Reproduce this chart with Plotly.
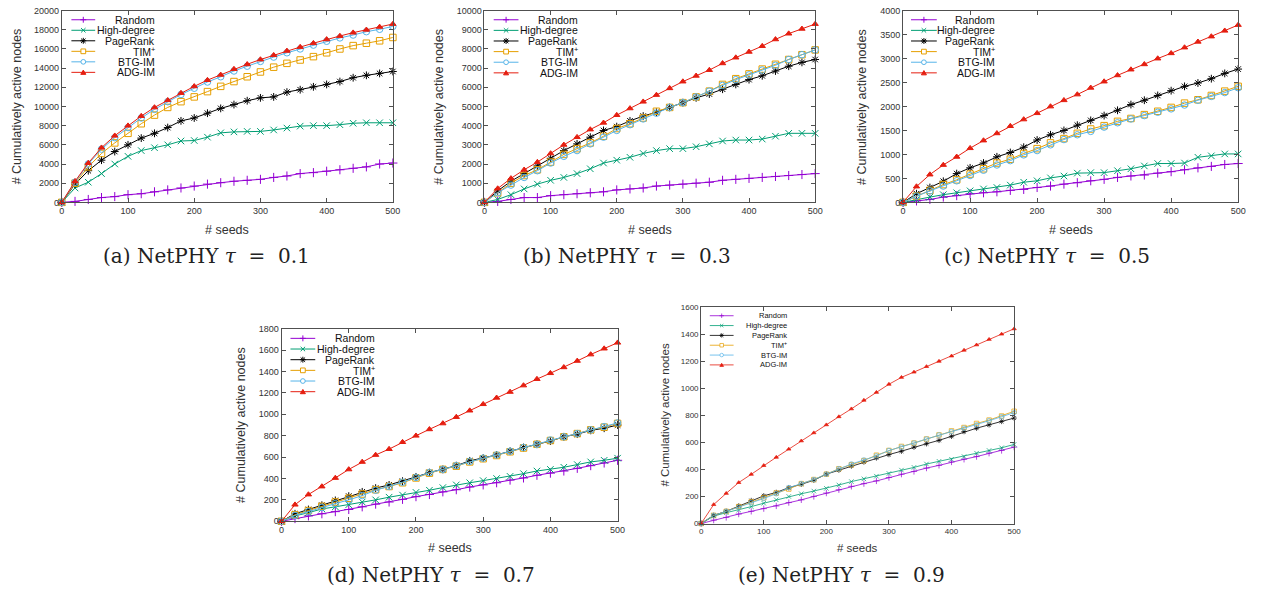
import plotly.graph_objects as go

W, H = 1263, 600

# ---------------- data ----------------
seeds = list(range(0, 501, 20))
series_names = ["Random", "High-degree", "PageRank", "TIM<sup>+</sup>", "BTG-IM", "ADG-IM"]
colors = ["#9400D3", "#009E73", "#000000", "#E69F00", "#56B4E9", "#E51E10"]
symbols = ["cross-thin-open", "x-thin-open", "asterisk-open", "square-open", "circle-open", "triangle-up"]

# (a) tau = 0.1
a_random = [0, 100, 300, 500, 600, 800, 900, 1100, 1300, 1500, 1700, 1900, 2050, 2200, 2300, 2400, 2600, 2750, 3000, 3100, 3250, 3400, 3550, 3700, 4000, 4100]
a_high = [0, 1500, 2100, 3000, 4000, 4800, 5400, 5700, 6000, 6400, 6450, 6800, 7250, 7350, 7400, 7400, 7550, 7750, 7950, 8000, 8000, 8100, 8250, 8300, 8300, 8300]
a_pagerank = [0, 1900, 3300, 4400, 5300, 6000, 6700, 7200, 7800, 8500, 8800, 9300, 9800, 10200, 10600, 10900, 11000, 11500, 11750, 12050, 12300, 12600, 13000, 13250, 13450, 13650]
a_tim = [0, 2000, 3700, 5100, 6200, 7200, 8200, 9100, 9900, 10500, 11000, 11550, 12100, 12600, 13100, 13600, 14100, 14500, 14850, 15200, 15600, 16000, 16350, 16600, 16850, 17200]
a_btg = [0, 2100, 4000, 5550, 6750, 7800, 8800, 9700, 10500, 11250, 11900, 12550, 13100, 13700, 14200, 14700, 15150, 15600, 16000, 16400, 16800, 17150, 17450, 17800, 18050, 18350]
a_adg = [0, 2200, 4100, 5700, 6950, 8000, 9000, 9900, 10650, 11400, 12100, 12750, 13300, 13900, 14400, 14900, 15350, 15800, 16200, 16600, 17000, 17350, 17700, 18000, 18300, 18600]

# (b) tau = 0.3
b_random = [0, 50, 150, 250, 250, 350, 400, 450, 500, 550, 650, 700, 750, 850, 900, 950, 1000, 1050, 1150, 1200, 1250, 1300, 1350, 1400, 1450, 1500]
b_high = [0, 150, 400, 700, 950, 1150, 1300, 1500, 1750, 2050, 2200, 2350, 2550, 2700, 2800, 2800, 2900, 3050, 3200, 3250, 3250, 3300, 3450, 3600, 3600, 3600]
b_pagerank = [0, 600, 1100, 1500, 1900, 2300, 2700, 3050, 3400, 3750, 3950, 4250, 4500, 4700, 4950, 5200, 5450, 5650, 5900, 6150, 6400, 6600, 6850, 7100, 7300, 7450]
b_tim = [0, 500, 1000, 1400, 1700, 2100, 2500, 2800, 3100, 3450, 3850, 4100, 4400, 4750, 4950, 5200, 5500, 5800, 6150, 6450, 6700, 6950, 7200, 7450, 7700, 7950]
b_btg = [0, 500, 900, 1300, 1650, 2050, 2400, 2700, 3050, 3400, 3750, 4050, 4350, 4650, 4950, 5200, 5500, 5800, 6100, 6400, 6650, 6900, 7150, 7450, 7700, 7950]
b_adg = [0, 720, 1250, 1700, 2100, 2550, 3000, 3400, 3800, 4150, 4550, 4900, 5250, 5600, 5950, 6300, 6600, 6900, 7250, 7550, 7850, 8150, 8500, 8800, 9050, 9300]

# (c) tau = 0.5
c_random = [0, 30, 60, 110, 140, 180, 200, 220, 250, 270, 310, 340, 380, 410, 450, 480, 520, 550, 570, 610, 640, 680, 720, 750, 790, 810]
c_high = [0, 60, 110, 160, 200, 240, 280, 310, 360, 420, 450, 510, 550, 610, 620, 620, 660, 700, 760, 810, 810, 820, 940, 970, 1010, 1010]
c_pagerank = [0, 180, 310, 440, 600, 720, 820, 950, 1040, 1150, 1300, 1410, 1500, 1610, 1710, 1810, 1920, 2040, 2130, 2230, 2330, 2420, 2490, 2580, 2690, 2780]
c_tim = [0, 130, 250, 370, 470, 590, 700, 820, 900, 1020, 1120, 1240, 1330, 1440, 1530, 1600, 1690, 1750, 1830, 1900, 1980, 2070, 2140, 2230, 2320, 2420]
c_btg = [0, 130, 240, 340, 450, 560, 670, 780, 870, 990, 1080, 1200, 1310, 1410, 1480, 1570, 1660, 1740, 1810, 1880, 1950, 2030, 2130, 2210, 2290, 2390]
c_adg = [0, 330, 580, 780, 950, 1130, 1290, 1440, 1590, 1730, 1860, 2000, 2130, 2250, 2390, 2520, 2650, 2770, 2880, 3000, 3110, 3230, 3350, 3460, 3580, 3700]

# (d) tau = 0.7
d_random = [0, 25, 50, 70, 90, 110, 135, 160, 180, 205, 230, 250, 275, 295, 320, 340, 360, 385, 405, 430, 450, 470, 495, 520, 545, 570]
d_high = [0, 50, 80, 115, 135, 155, 180, 200, 225, 245, 270, 290, 315, 340, 360, 380, 400, 420, 445, 470, 485, 505, 530, 555, 570, 590]
d_pagerank = [0, 70, 110, 150, 195, 235, 275, 310, 340, 375, 415, 455, 485, 520, 565, 590, 620, 655, 690, 720, 750, 790, 815, 850, 870, 900]
d_tim = [0, 60, 100, 140, 180, 215, 255, 295, 325, 360, 405, 450, 485, 515, 555, 585, 615, 650, 685, 720, 755, 790, 820, 855, 880, 915]
d_btg = [0, 55, 90, 130, 165, 200, 240, 290, 325, 365, 410, 455, 485, 520, 560, 590, 620, 655, 690, 720, 760, 790, 820, 855, 885, 920]
d_adg = [0, 155, 250, 325, 405, 485, 555, 620, 675, 740, 800, 860, 915, 975, 1035, 1095, 1155, 1210, 1270, 1330, 1385, 1440, 1500, 1560, 1615, 1670]

# (e) tau = 0.9
e_random = [0, 25, 45, 70, 90, 110, 130, 155, 175, 200, 225, 250, 275, 295, 315, 340, 365, 385, 410, 430, 455, 475, 495, 520, 540, 565]
e_high = [0, 55, 80, 100, 125, 150, 175, 200, 220, 240, 260, 285, 310, 330, 350, 370, 395, 415, 440, 460, 475, 495, 520, 540, 560, 585]
e_pagerank = [0, 60, 90, 130, 170, 205, 230, 265, 290, 320, 365, 395, 425, 455, 485, 510, 535, 565, 590, 615, 645, 680, 705, 730, 755, 780]
e_tim = [0, 60, 90, 125, 160, 190, 225, 255, 295, 325, 365, 405, 435, 465, 505, 540, 570, 595, 625, 655, 685, 710, 740, 765, 795, 830]
e_btg = [0, 60, 90, 120, 155, 185, 220, 265, 295, 325, 365, 405, 440, 470, 500, 540, 565, 595, 625, 655, 680, 705, 730, 760, 790, 820]
e_adg = [0, 140, 223, 303, 364, 429, 490, 550, 611, 671, 730, 790, 848, 912, 970, 1030, 1081, 1120, 1161, 1200, 1239, 1282, 1321, 1362, 1401, 1440]

captions = ["(a) NetPHY <i>τ</i> \u00a0= \u00a00.1", "(b) NetPHY <i>τ</i> \u00a0= \u00a00.3",
            "(c) NetPHY <i>τ</i> \u00a0= \u00a00.5", "(d) NetPHY <i>τ</i> \u00a0= \u00a00.7",
            "(e) NetPHY <i>τ</i> \u00a0= \u00a00.9"]
y_max = [20000, 10000, 4000, 1800, 1600]
y_step = [2000, 1000, 500, 200, 200]
x_title = "# seeds"
y_title = "# Cumulatively active nodes"

panel_data = [
    [a_random, a_high, a_pagerank, a_tim, a_btg, a_adg],
    [b_random, b_high, b_pagerank, b_tim, b_btg, b_adg],
    [c_random, c_high, c_pagerank, c_tim, c_btg, c_adg],
    [d_random, d_high, d_pagerank, d_tim, d_btg, d_adg],
    [e_random, e_high, e_pagerank, e_tim, e_btg, e_adg],
]

# ---------------- layout geometry (pixels) ----------------
frames = [
    (59.3, 393.3, 5.7, 200.7),
    (485.7, 819.3, 5.7, 200.7),
    (908.0, 1246.0, 5.7, 200.7),
    (281.0, 620.0, 329.3, 525.0),
    (704.3, 1020.0, 307.3, 527.3),
]
legends = [
    (69, 93, 154, 15.0, 10.7, 10.5, 6),
    (495, 520, 581, 15.0, 10.8, 10.5, 6),
    (916, 942, 1002, 15.0, 10.8, 10.5, 6),
    (290, 315, 376, 339.0, 10.85, 10.5, 6),
    (713, 737, 792, 316.0, 10.0, 7.5, 4.5),
]
ytitle_x = [15, 440, 867, 240, 668]
xtitle_y = [229, 229, 229, 552, 552]
caption_pos = [(205, 255), (629, 255), (1053, 255), (432, 580), (846, 580)]
tick_font = [9, 9, 9, 9, 8]
title_font = [12.5, 12.5, 12.5, 12.5, 11.5]
line_w = [1.0, 1.0, 1.0, 1.0, 0.8]
mk_size = [6.5, 6.5, 6.5, 6.5, 4.5]

FRAME = "#505050"
TXT = "#333333"


def px(x):
    return x / W


def py(y):
    return 1 - y / H


fig = go.Figure()
shapes = []
annotations = []

for p in range(5):
    L, R, T, B = frames[p]
    xa = "xaxis" if p == 0 else f"xaxis{p+1}"
    ya = "yaxis" if p == 0 else f"yaxis{p+1}"
    xr = "x" if p == 0 else f"x{p+1}"
    yr = "y" if p == 0 else f"y{p+1}"
    for s in range(6):
        size = mk_size[p] * (0.85 if s == 5 else 1.0)
        fig.add_trace(go.Scatter(
            x=seeds, y=panel_data[p][s], mode="lines+markers", name=series_names[s],
            xaxis=xr, yaxis=yr, showlegend=False, cliponaxis=False,
            line=dict(color=colors[s], width=line_w[p]),
            marker=dict(symbol=symbols[s], size=size, color=colors[s],
                        line=dict(color=colors[s], width=1.0 if p < 4 else 0.7)),
        ))
    axis_common = dict(showline=True, linecolor=FRAME, linewidth=1, mirror="ticks",
                       ticks="inside", ticklen=4, tickcolor=FRAME, tickwidth=1,
                       showgrid=False, zeroline=False, tickformat="d",
                       tickfont=dict(family="Liberation Sans, Arial", size=tick_font[p], color=TXT))
    fig.update_layout(**{
        xa: dict(domain=[px(L), px(R)], range=[0, 500], dtick=100, tick0=0, anchor=yr, **axis_common),
        ya: dict(domain=[py(B), py(T)], range=[0, y_max[p]], dtick=y_step[p], tick0=0, anchor=xr, **axis_common),
    })
    annotations.append(dict(x=px((L + R) / 2), y=py(xtitle_y[p]), xref="paper", yref="paper",
                            text=x_title, showarrow=False, xanchor="center", yanchor="middle",
                            font=dict(family="Liberation Sans, Arial", size=title_font[p], color=TXT)))
    annotations.append(dict(x=px(ytitle_x[p]), y=py((T + B) / 2), xref="paper", yref="paper",
                            text=y_title, showarrow=False, textangle=-90, xanchor="center", yanchor="middle",
                            font=dict(family="Liberation Sans, Arial", size=title_font[p], color=TXT)))
    cx, cy = caption_pos[p]
    annotations.append(dict(x=px(cx), y=py(cy), xref="paper", yref="paper", text=captions[p],
                            showarrow=False, xanchor="center", yanchor="middle",
                            font=dict(family="DejaVu Serif, serif", size=20, color="#222222")))
    # manual legend (gnuplot style, right aligned text)
    lx0, lx1, ltr, ly0, ldy, lfs, lms = legends[p]
    mw = 1.0 if p < 4 else 0.7
    for s in range(6):
        yy = ly0 + s * ldy
        col = colors[s]
        shapes.append(dict(type="line", xref="paper", yref="paper", x0=px(lx0), x1=px(lx1),
                           y0=py(yy), y1=py(yy), line=dict(color=col, width=line_w[p])))
        cxm = (lx0 + lx1) / 2
        r = lms / 2
        if s == 0:
            path = f"M{px(cxm-r)},{py(yy)} L{px(cxm+r)},{py(yy)} M{px(cxm)},{py(yy-r)} L{px(cxm)},{py(yy+r)}"
            shapes.append(dict(type="path", xref="paper", yref="paper", path=path, line=dict(color=col, width=mw)))
        elif s == 1:
            q = r * 0.75
            path = f"M{px(cxm-q)},{py(yy-q)} L{px(cxm+q)},{py(yy+q)} M{px(cxm-q)},{py(yy+q)} L{px(cxm+q)},{py(yy-q)}"
            shapes.append(dict(type="path", xref="paper", yref="paper", path=path, line=dict(color=col, width=mw)))
        elif s == 2:
            q = r * 0.75
            path = (f"M{px(cxm-r)},{py(yy)} L{px(cxm+r)},{py(yy)} M{px(cxm)},{py(yy-r)} L{px(cxm)},{py(yy+r)} "
                    f"M{px(cxm-q)},{py(yy-q)} L{px(cxm+q)},{py(yy+q)} M{px(cxm-q)},{py(yy+q)} L{px(cxm+q)},{py(yy-q)}")
            shapes.append(dict(type="path", xref="paper", yref="paper", path=path, line=dict(color=col, width=mw)))
        elif s == 3:
            q = r * 0.8
            shapes.append(dict(type="rect", xref="paper", yref="paper", x0=px(cxm-q), x1=px(cxm+q),
                               y0=py(yy+q), y1=py(yy-q), line=dict(color=col, width=mw), fillcolor="white"))
        elif s == 4:
            q = r * 0.8
            shapes.append(dict(type="circle", xref="paper", yref="paper", x0=px(cxm-q), x1=px(cxm+q),
                               y0=py(yy+q), y1=py(yy-q), line=dict(color=col, width=mw), fillcolor="white"))
        else:
            q = r * 0.85
            path = f"M{px(cxm-q)},{py(yy+q*0.8)} L{px(cxm+q)},{py(yy+q*0.8)} L{px(cxm)},{py(yy-q*0.9)} Z"
            shapes.append(dict(type="path", xref="paper", yref="paper", path=path,
                               line=dict(color=col, width=mw), fillcolor=col))
        annotations.append(dict(x=px(ltr), y=py(yy), xref="paper", yref="paper", text=series_names[s],
                                showarrow=False, xanchor="right", yanchor="middle", borderpad=0,
                                font=dict(family="Liberation Sans, Arial", size=lfs, color="#111111")))

fig.update_layout(width=W, height=H, margin=dict(l=0, r=0, t=0, b=0),
                  paper_bgcolor="white", plot_bgcolor="white",
                  shapes=shapes, annotations=annotations, showlegend=False)

fig.write_html("out.html")
